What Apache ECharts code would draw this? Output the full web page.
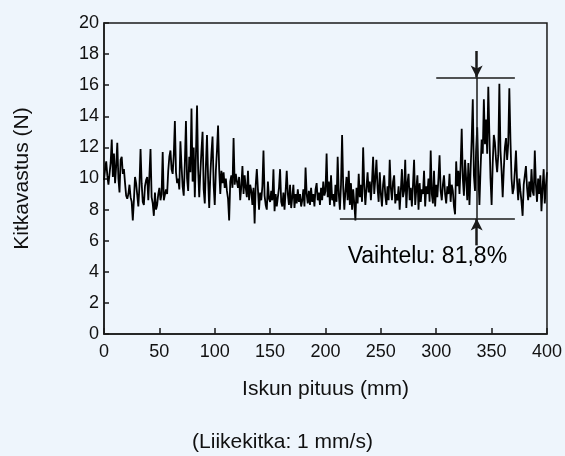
<!DOCTYPE html>
<html><head><meta charset="utf-8">
<script src="https://cdn.jsdelivr.net/npm/echarts@6/dist/echarts.min.js"></script>
<style>html,body{margin:0;padding:0;background:#eef5fc}#c{width:565px;height:456px}</style>
</head><body><div id="c"></div><script>
// Stroke position sampled every 1 mm from 0 to 400 mm
const strokeStartMm = 0;
const strokeStepMm = 1;
const forceN = [
 9.9,10.6,11.1,10.2,9.6,9.5,11.0,12.5,10.1,11.6,
 9.7,10.8,12.3,10.0,9.1,11.2,11.4,10.3,10.6,9.7,
 8.9,8.7,9.0,9.6,8.8,8.5,7.3,8.6,10.1,9.7,
 9.6,8.2,9.5,11.9,9.7,8.5,8.3,9.5,9.9,10.1,
 8.6,10.2,11.9,8.8,8.4,7.6,9.1,8.0,8.3,9.0,
 9.4,8.6,9.0,11.7,8.6,8.5,9.3,9.0,10.5,11.4,
 11.8,10.6,10.3,11.5,13.7,10.4,9.7,10.0,9.3,12.4,
 10.8,9.5,8.9,11.0,13.7,10.0,9.2,11.4,10.4,14.5,
 9.8,12.0,8.8,11.5,14.7,10.6,8.8,10.4,11.8,13.0,
 9.3,8.4,10.8,12.8,10.0,8.1,10.2,11.6,12.7,9.6,
 8.3,10.5,11.8,13.4,10.6,9.0,10.5,9.7,10.4,9.4,
 10.0,9.2,8.7,7.3,9.8,10.2,9.4,12.6,9.6,10.3,
 9.8,9.4,10.1,8.6,9.5,10.8,9.0,10.2,9.4,8.8,
 10.5,8.6,9.6,9.2,8.3,9.4,7.1,9.6,10.6,9.3,
 8.0,9.1,8.6,9.5,11.8,8.9,8.3,8.0,9.8,8.7,
 8.5,9.2,8.6,10.6,7.9,9.0,8.2,8.8,9.4,10.6,
 8.5,8.2,9.1,8.0,9.2,10.5,9.0,8.3,9.6,8.1,
 8.8,9.6,8.1,9.0,8.4,9.3,8.5,9.0,8.2,8.6,
 9.3,8.2,10.7,9.0,8.4,9.2,8.3,9.4,8.5,9.0,
 8.2,9.3,9.7,8.6,9.1,8.3,9.4,8.6,9.8,8.9,
 9.2,11.6,8.8,9.8,8.3,10.2,8.6,9.0,8.2,9.6,
 8.5,11.4,9.0,8.0,9.6,12.8,9.4,8.0,9.2,10.1,
 8.6,10.5,8.3,9.7,8.0,9.3,8.4,7.3,9.4,8.4,
 10.3,8.8,9.6,8.5,12.0,9.5,8.3,9.4,10.4,9.1,
 9.8,8.6,9.8,11.4,9.0,10.0,11.2,9.4,8.5,10.4,
 9.0,8.2,9.6,10.2,8.9,8.3,9.5,8.6,11.2,9.4,
 8.6,9.8,10.2,8.4,9.0,8.6,9.5,8.0,9.2,10.6,
 8.8,9.2,11.2,8.1,9.7,10.3,8.6,9.4,8.2,9.6,
 11.2,8.3,9.3,10.2,8.0,9.7,8.5,9.3,9.0,10.5,
 8.2,9.5,9.0,10.0,8.5,11.8,9.0,8.4,10.5,8.2,
 9.6,8.8,10.0,11.5,9.2,8.6,9.6,10.2,9.0,8.4,
 9.5,9.0,10.3,8.5,9.6,9.2,8.2,7.7,11.1,9.5,
 10.5,9.0,10.8,13.2,10.0,8.9,11.2,10.0,8.6,11.0,
 8.3,10.5,12.5,15.1,10.2,9.2,11.8,13.3,10.5,8.3,
 10.6,12.5,11.6,15.1,12.2,13.8,11.6,15.9,12.8,10.0,
 8.3,11.0,12.8,12.3,11.2,10.4,11.5,16.1,11.8,10.5,
 8.8,10.6,12.0,12.6,11.2,12.2,15.8,12.5,10.0,9.0,
 9.4,10.5,11.8,9.8,8.6,10.0,9.2,8.5,7.6,9.6,
 10.2,10.8,9.4,8.6,9.8,8.8,10.6,9.2,8.9,11.8,
 9.6,8.5,10.0,9.0,10.2,7.9,9.4,10.6,8.4,9.5,
 10.4
];
const xTicks = [0,50,100,150,200,250,300,350,400];
const yTicks = [0,2,4,6,8,10,12,14,16,18,20];
// Variation annotation (data units)
const rangeMaxN = 16.5;
const rangeMinN = 7.42;
const rangeMaxFromMm = 300, rangeMaxToMm = 371;
const rangeMinFromMm = 213, rangeMinToMm = 371;
const arrowAtMm = 336.5;
const arrowTopN = 18.2, arrowBottomN = 5.7;
const variationLabel = 'Vaihtelu: 81,8%';
const variationLabelAt = [292, 5.0];
const xTitle = 'Iskun pituus (mm)';
const yTitle = 'Kitkavastus (N)';
const footNote = '(Liikekitka: 1 mm/s)';

const pts = forceN.map((v, i) => [strokeStartMm + i * strokeStepMm, v]);
const FONT = 'Liberation Sans, Arial, Helvetica, sans-serif';
const INK = '#1a1a1a';

const chart = echarts.init(document.getElementById('c'), null, {renderer: 'canvas'});
chart.setOption({
  animation: false,
  backgroundColor: '#eef5fc',
  textStyle: {fontFamily: FONT, color: '#111'},
  grid: {left: 104, right: 16, top: 23, bottom: 122, show: true, borderColor: INK, borderWidth: 1.5, backgroundColor: 'transparent'},
  xAxis: {
    type: 'value', min: xTicks[0], max: xTicks[xTicks.length - 1], interval: 50,
    axisLine: {show: true, onZero: false, lineStyle: {color: INK, width: 1.5}},
    axisTick: {show: true, inside: true, length: 6, lineStyle: {color: INK, width: 1.5}},
    axisLabel: {fontSize: 18, color: '#111', margin: 9, fontFamily: FONT},
    splitLine: {show: false},
    name: xTitle, nameLocation: 'middle', nameGap: 45,
    nameTextStyle: {fontSize: 21, color: '#111', fontFamily: FONT}
  },
  yAxis: {
    type: 'value', min: yTicks[0], max: yTicks[yTicks.length - 1], interval: 2,
    axisLine: {show: true, onZero: false, lineStyle: {color: INK, width: 1.5}},
    axisTick: {show: true, inside: true, length: 5, lineStyle: {color: INK, width: 1.5}},
    axisLabel: {fontSize: 18, color: '#111', margin: 5, fontFamily: FONT},
    splitLine: {show: false},
    name: yTitle, nameLocation: 'middle', nameGap: 71, nameRotate: 90,
    nameTextStyle: {fontSize: 21, color: '#111', fontFamily: FONT}
  },
  graphic: [{
    type: 'text', left: 'center', top: 432,
    style: {text: footNote, fontSize: 21, fill: '#111', fontFamily: FONT}
  }],
  series: [
    {
      type: 'line', data: pts, showSymbol: false, symbol: 'none',
      lineStyle: {color: '#000', width: 1.8}, z: 3
    },
    {
      type: 'line', data: [], z: 4,
      markLine: {
        silent: true, animation: false,
        label: {show: false},
        lineStyle: {color: INK, width: 1.5, type: 'solid'},
        symbol: ['none', 'none'],
        data: [
          [{coord: [rangeMaxFromMm, rangeMaxN]}, {coord: [rangeMaxToMm, rangeMaxN]}],
          [{coord: [rangeMinFromMm, rangeMinN]}, {coord: [rangeMinToMm, rangeMinN]}],
          [{coord: [arrowAtMm, rangeMaxN]}, {coord: [arrowAtMm, rangeMinN]}],
          [{coord: [arrowAtMm, arrowTopN], symbol: 'none'}, {coord: [arrowAtMm, rangeMaxN], symbol: 'arrow', symbolSize: [9, 12], lineStyle: {width: 2.5}}],
          [{coord: [arrowAtMm, arrowBottomN], symbol: 'none'}, {coord: [arrowAtMm, rangeMinN], symbol: 'arrow', symbolSize: [9, 12], lineStyle: {width: 2.5}}]
        ]
      }
    },
    {
      type: 'scatter', data: [variationLabelAt], symbolSize: 0, z: 5,
      itemStyle: {opacity: 1},
      label: {show: true, position: 'inside', formatter: variationLabel, fontSize: 23, color: '#000', opacity: 1, fontFamily: FONT}
    }
  ]
});
</script></body></html>
